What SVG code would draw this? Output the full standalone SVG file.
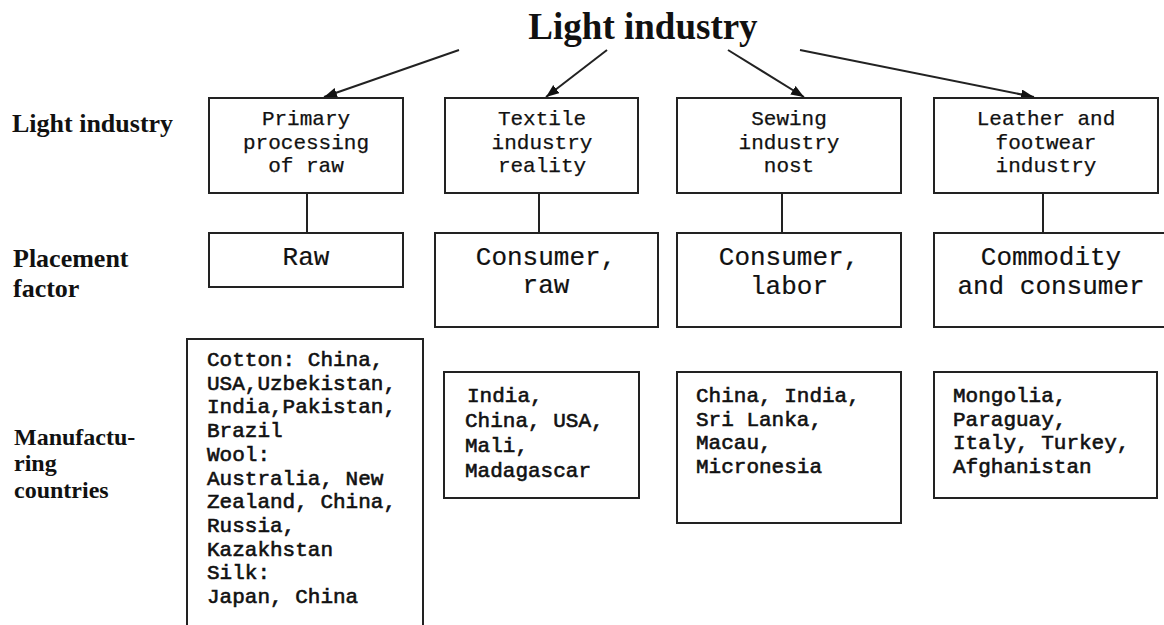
<svg xmlns="http://www.w3.org/2000/svg" width="1164" height="625" viewBox="0 0 1164 625">
<style>
.box{fill:#fff;stroke:#222;stroke-width:2}
.lbl{font-family:"Liberation Serif","Times New Roman",serif;font-weight:bold;fill:#111}
.m{font-family:"Courier New","Liberation Mono",monospace;font-size:21px;fill:#111;stroke:#111;stroke-width:0.25}
.mb{font-family:"Courier New","Liberation Mono",monospace;font-size:21px;fill:#111;stroke:#111;stroke-width:0.6}
.p{font-family:"Courier New","Liberation Mono",monospace;font-size:26px;fill:#111;stroke:#111;stroke-width:0.2}
.c{text-anchor:middle}
.edge{stroke:#222;stroke-width:2;fill:none}
</style>
<defs>
<marker id="ah" markerUnits="userSpaceOnUse" markerWidth="14" markerHeight="12" refX="13" refY="5" orient="auto">
<path d="M0,0 L13,5 L0,10 Z" fill="#111"/>
</marker>
</defs>
<rect width="1164" height="625" fill="#fff"/>
<g id="title"><text class="lbl" x="643" y="39" font-size="37" text-anchor="middle">Light industry</text></g>
<g id="row-labels">
<text class="lbl" x="12" y="132" font-size="26">Light industry</text>
<text class="lbl" x="13" y="267" font-size="26">Placement</text>
<text class="lbl" x="13" y="297" font-size="26">factor</text>
<text class="lbl" x="14" y="445" font-size="24">Manufactu-</text>
<text class="lbl" x="14" y="471" font-size="24">ring</text>
<text class="lbl" x="14" y="498" font-size="24">countries</text>
</g>
<g id="connectors">
<line class="edge" x1="459" y1="50" x2="324" y2="97" marker-end="url(#ah)"/>
<line class="edge" x1="607" y1="50" x2="546" y2="97" marker-end="url(#ah)"/>
<line class="edge" x1="728" y1="50" x2="804" y2="97" marker-end="url(#ah)"/>
<line class="edge" x1="800" y1="50" x2="1034" y2="97" marker-end="url(#ah)"/>
<line class="edge" x1="307" y1="193" x2="307" y2="233"/>
<line class="edge" x1="539" y1="193" x2="539" y2="233"/>
<line class="edge" x1="782" y1="193" x2="782" y2="233"/>
<line class="edge" x1="1043" y1="193" x2="1043" y2="233"/>
</g>
<g id="ind1"><rect class="box" x="209" y="98" width="194" height="95"/>
<text class="m c" x="306" y="125">Primary</text><text class="m c" x="306" y="148.5">processing</text><text class="m c" x="306" y="172">of raw</text></g>
<g id="ind2"><rect class="box" x="445" y="98" width="193" height="95"/>
<text class="m c" x="542" y="125">Textile</text><text class="m c" x="542" y="148.5">industry</text><text class="m c" x="542" y="172">reality</text></g>
<g id="ind3"><rect class="box" x="677" y="98" width="224" height="95"/>
<text class="m c" x="789" y="125">Sewing</text><text class="m c" x="789" y="148.5">industry</text><text class="m c" x="789" y="172">nost</text></g>
<g id="ind4"><rect class="box" x="934" y="98" width="224" height="95"/>
<text class="m c" x="1046" y="125">Leather and</text><text class="m c" x="1046" y="148.5">footwear</text><text class="m c" x="1046" y="172">industry</text></g>
<g id="pl1"><rect class="box" x="209" y="233" width="194" height="54"/>
<text class="p c" x="306" y="265">Raw</text></g>
<g id="pl2"><rect class="box" x="435" y="233" width="223" height="94"/>
<text class="p c" x="546" y="265">Consumer,</text><text class="p c" x="546" y="293">raw</text></g>
<g id="pl3"><rect class="box" x="677" y="233" width="224" height="94"/>
<text class="p c" x="789" y="265">Consumer,</text><text class="p c" x="789" y="294">labor</text></g>
<g id="pl4"><rect class="box" x="934" y="233" width="234" height="94"/>
<text class="p c" x="1051" y="265">Commodity</text><text class="p c" x="1051" y="294">and consumer</text></g>
<g id="mf1"><rect class="box" x="187" y="339" width="236" height="300"/>
<text class="mb" x="207" y="366">Cotton: China,</text>
<text class="mb" x="207" y="389.7">USA,Uzbekistan,</text>
<text class="mb" x="207" y="413.4">India,Pakistan,</text>
<text class="mb" x="207" y="437.1">Brazil</text>
<text class="mb" x="207" y="460.8">Wool:</text>
<text class="mb" x="207" y="484.5">Australia, New</text>
<text class="mb" x="207" y="508.2">Zealand, China,</text>
<text class="mb" x="207" y="531.9">Russia,</text>
<text class="mb" x="207" y="555.6">Kazakhstan</text>
<text class="mb" x="207" y="579.3">Silk:</text>
<text class="mb" x="207" y="603">Japan, China</text></g>
<g id="mf2"><rect class="box" x="444" y="372" width="195" height="126"/>
<text class="mb" x="467" y="402">India,</text><text class="mb" x="465" y="427">China, USA,</text><text class="mb" x="465" y="452">Mali,</text><text class="mb" x="465" y="477">Madagascar</text></g>
<g id="mf3"><rect class="box" x="677" y="372" width="224" height="151"/>
<text class="mb" x="696" y="402">China, India,</text><text class="mb" x="696" y="425.7">Sri Lanka,</text><text class="mb" x="696" y="449.3">Macau,</text><text class="mb" x="696" y="473">Micronesia</text></g>
<g id="mf4"><rect class="box" x="934" y="372" width="223" height="126"/>
<text class="mb" x="953" y="402">Mongolia,</text><text class="mb" x="953" y="425.7">Paraguay,</text><text class="mb" x="953" y="449.3">Italy, Turkey,</text><text class="mb" x="953" y="473">Afghanistan</text></g>
</svg>
